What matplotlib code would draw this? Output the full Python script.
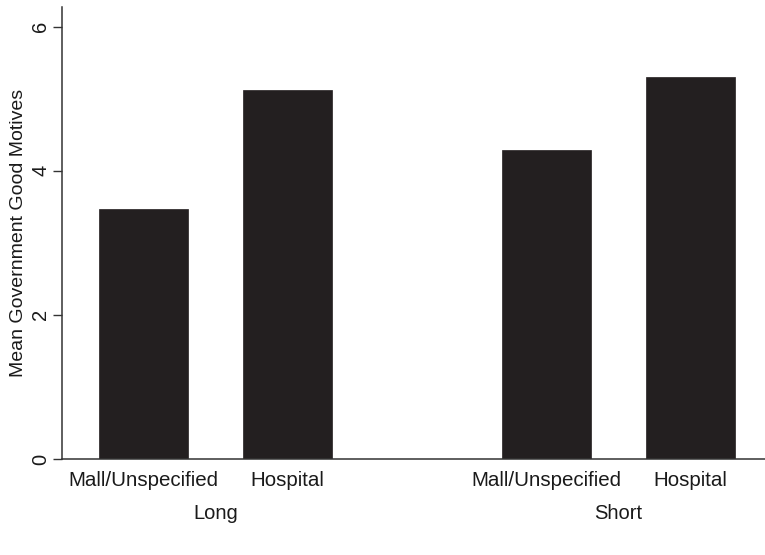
import matplotlib.pyplot as plt
import numpy as np

plt.rcParams['font.family'] = ['Liberation Sans', 'DejaVu Sans']

groups = ["Long", "Short"]
categories = ["Mall/Unspecified", "Hospital"]
long_vals = [3.47, 5.12]
short_vals = [4.29, 5.30]

group_step = 2.81  # distance between first bars of each group
width = 0.62
bar_color = "#231f20"
axis_color = "#333333"

fig = plt.figure(figsize=(7.65, 5.55), dpi=100)
ax = fig.add_axes([0.081, 0.173, 0.919, 0.814])

xpos = []
labels = []
for gi, vals in enumerate([long_vals, short_vals]):
    x = gi * group_step + np.arange(len(categories))
    ax.bar(x, vals, width, color=bar_color, edgecolor=bar_color, linewidth=0.5)
    xpos.extend(x)
    labels.extend(categories)
    # group label under the category labels
    ax.annotate(groups[gi], xy=(x.mean(), 0), xycoords=("data", "axes fraction"),
                xytext=(0, -39), textcoords="offset points",
                ha="center", va="center", fontsize=14.5, color="#1a1a1a")

ax.set_xticks(xpos)
ax.set_xticklabels(labels, fontsize=14.8, color="#1a1a1a")
ax.tick_params(axis="x", length=0, pad=9)

ax.set_ylim(0, 6.27)
ax.set_xlim(-0.568, 4.33)
ax.set_yticks([0, 2, 4, 6])
ax.set_yticklabels(["0", "2", "4", "6"], rotation=90, va="center", fontsize=14.5, color="#1a1a1a")
ax.tick_params(axis="y", length=6.5, width=1.0, color=axis_color, pad=2)
ax.set_ylabel("Mean Government Good Motives", fontsize=14, color="#1a1a1a", labelpad=3)

for side in ["top", "right"]:
    ax.spines[side].set_visible(False)
for side in ["left", "bottom"]:
    ax.spines[side].set_color(axis_color)
    ax.spines[side].set_linewidth(1.1)

fig.savefig("out.png", dpi=100)
